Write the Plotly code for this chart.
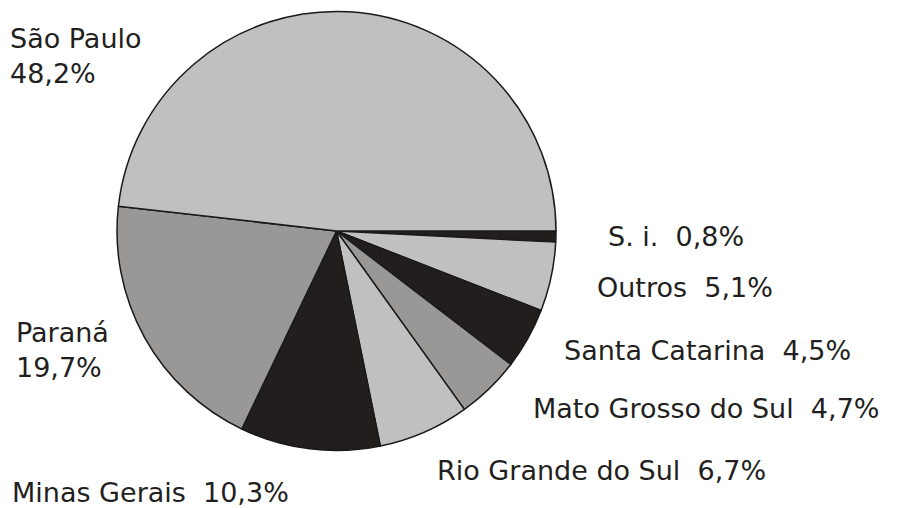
import plotly.graph_objects as go

categories = ["S. i.", "Outros", "Santa Catarina", "Mato Grosso do Sul",
              "Rio Grande do Sul", "Minas Gerais", "Paraná", "São Paulo"]
values = [0.8, 5.1, 4.5, 4.7, 6.7, 10.3, 19.7, 48.2]
label_texts = ["S. i.\u00a0\u00a00,8%", "Outros\u00a0\u00a05,1%", "Santa Catarina\u00a0\u00a04,5%",
               "Mato Grosso do Sul\u00a0\u00a04,7%", "Rio Grande do Sul\u00a0\u00a06,7%",
               "Minas Gerais\u00a0\u00a010,3%", "Paraná<br>19,7%", "São Paulo<br>48,2%"]

LIGHT = "#c0c0c0"
MID = "#999896"
DARK = "#221e1d"
colors = [DARK, LIGHT, DARK, MID, LIGHT, DARK, MID, LIGHT]

# the page body has an 8px margin, so work in shifted coordinates
OFF = 8
W, H = 905, 500
cx, cy, r = 336.5 - OFF, 231.0 - OFF, 219.5

fig = go.Figure(go.Pie(
    labels=categories, values=values, sort=False, direction="clockwise",
    rotation=90, textinfo="none", hoverinfo="label+percent",
    marker=dict(colors=colors, line=dict(color="#1a1a1a", width=1.5)),
    domain=dict(x=[(cx - r) / W, (cx + r) / W], y=[1 - (cy + r) / H, 1 - (cy - r) / H]),
    showlegend=False,
))

# label positions in reference pixels: left x, center y
pos = [(606, 237), (595, 287), (562, 350), (531, 408), (435, 470), (10, 492), (14, 350), (8, 56)]
for t, (px, py) in zip(label_texts, pos):
    fig.add_annotation(text=t, xref="paper", yref="paper", x=(px - OFF) / W, y=1 - (py - OFF) / H,
                       xanchor="left", yanchor="middle", showarrow=False, align="left",
                       font=dict(family="DejaVu Sans", size=27, color="#231f20"))

fig.update_layout(width=W, height=H, margin=dict(l=0, r=0, t=0, b=0),
                  paper_bgcolor="white", plot_bgcolor="white")
fig.write_html("out.html")
